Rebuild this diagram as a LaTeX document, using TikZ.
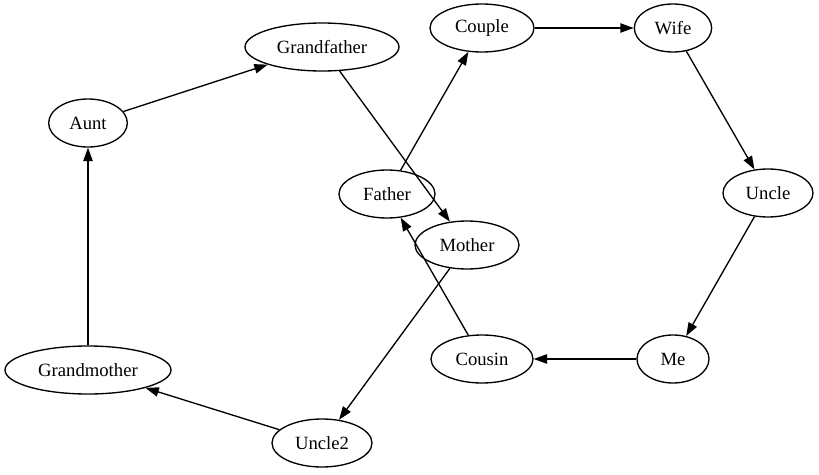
\documentclass[tikz,border=0pt]{standalone}
\usepackage{fontspec}
\setmainfont{Liberation Serif}
\usetikzlibrary{shapes,arrows.meta}

\begin{document}
\begin{tikzpicture}[x=0.75pt, y=-0.75pt, font=\fontsize{14}{16}\selectfont,
    person/.style={ellipse, draw, line width=1pt, inner sep=0pt, minimum height=36pt},
    link/.style={line width=1pt, -{Triangle[length=10pt, width=7pt]}}]
    \useasboundingbox (0,0) rectangle (819,475);

    % People
    \node[person, minimum width=115.5pt] (grandfather) at (322,47) {Grandfather};
    \node[person, minimum width=78pt] (couple) at (482,28) {Couple};
    \node[person, minimum width=58pt] (wife) at (673,28) {Wife};
    \node[person, minimum width=59pt] (aunt) at (88,123) {Aunt};
    \node[person, minimum width=72pt] (father) at (387,194) {Father};
    \node[person, minimum width=67.5pt] (uncle) at (768,193) {Uncle};
    \node[person, minimum width=78pt] (mother) at (467,245) {Mother};
    \node[person, minimum width=124.5pt] (grandmother) at (88,370) {Grandmother};
    \node[person, minimum width=76.5pt] (cousin) at (482,359) {Cousin};
    \node[person, minimum width=54pt] (me) at (673,359) {Me};
    \node[person, minimum width=75pt] (uncle2) at (322,443) {Uncle2};

    % Links
    \draw[link] (aunt) -- (grandfather);
    \draw[link] (grandfather) -- (mother);
    \draw[link] (father) -- (couple);
    \draw[link] (couple) -- (wife);
    \draw[link] (wife) -- (uncle);
    \draw[link] (uncle) -- (me);
    \draw[link] (me) -- (cousin);
    \draw[link] (cousin) -- (father);
    \draw[link] (mother) -- (uncle2);
    \draw[link] (uncle2) -- (grandmother);
    \draw[link] (grandmother) -- (aunt);
\end{tikzpicture}
\end{document}
